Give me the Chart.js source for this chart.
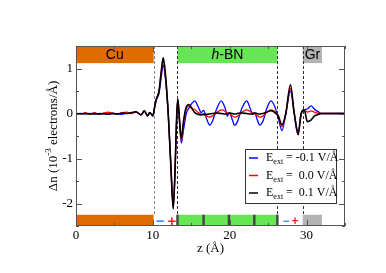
<!DOCTYPE html>
<html>
<head>
<meta charset="utf-8">
<script src="https://cdn.jsdelivr.net/npm/chart.js@4.4.1/dist/chart.umd.min.js"></script>
<style>
  html, body { margin: 0; padding: 0; background: #fff; }
</style>
</head>
<body>
<canvas id="chart" width="386" height="273"></canvas>
<script>
// distance from the Cu slab (Å)
const z = [0, 0.6, 1.2, 1.8, 2.4, 3.0, 3.6, 4.2, 4.8, 5.4, 6.0, 6.6, 7.2,
  7.8, 8.45, 8.9, 9.3, 9.6, 10.0,
  10.2, 10.45, 10.8, 11.1, 11.35, 11.65, 12.0, 12.35, 12.65, 12.9, 13.1, 13.25, 13.45, 13.7, 14.0,
  14.35, 14.7, 15.05, 15.45, 15.9, 16.3, 16.6, 17.0, 17.4, 17.8, 18.3, 18.9, 19.4, 19.7, 19.95, 20.3,
  20.65, 21.0, 21.6, 22.2, 22.7, 23.0, 23.25, 23.55, 23.9, 24.3, 24.8, 25.35, 25.8, 26.3,
  26.8, 27.3, 27.9, 28.4, 28.9, 29.3, 29.7, 30.1, 30.6, 31.0, 31.6, 32.0, 33, 34, 35];

// Δn for E_ext = -0.1 V/Å
const fieldNeg = [-0.01, 0, -0.01, 0, -0.02, 0, -0.01, -0.02, 0, -0.01, -0.02, 0.01, 0.01,
  0.03, -0.03, 0.05, -0.05, 0.02, -0.06,
  0.1, 0.3, 0.45, 0.82, 1.08, 0.75, 0, -1.15, -2.05, -1.2, -0.08, 0.3, -0.15, -0.66, -0.35,
  0, 0.12, 0.22, 0.28, 0.15, 0.02, 0.07, -0.12, -0.26, -0.15, 0.1, 0.28, 0.12, -0.06, 0.02, -0.12,
  -0.26, -0.18, 0.12, 0.28, 0.1, -0.02, 0.02, -0.12, -0.26, -0.18, 0.1, 0.28, 0.18, -0.08,
  -0.38, 0, 0.5, 0, -0.4, 0, 0.08, 0.1, 0.17, 0.1, 0.03, 0, 0, 0, 0];

// Δn for E_ext = 0.0 V/Å
const fieldZero = [0.01, -0.02, 0.02, -0.01, 0.02, -0.02, 0.01, 0.03, 0.01, -0.02, 0.02, 0.03, 0,
  0.04, -0.03, 0.06, -0.05, 0.02, -0.05,
  0.12, 0.32, 0.5, 0.92, 1.18, 0.8, 0, -1.2, -2.1, -1.2, -0.05, 0.3, -0.1, -0.6, -0.2,
  0.1, 0.17, 0.12, 0.09, 0.02, -0.02, -0.03, -0.06, -0.08, -0.05, 0.02, 0.08, 0.05, 0, 0, -0.05,
  -0.08, -0.06, 0.03, 0.08, 0.04, 0, -0.01, -0.04, -0.08, -0.06, 0.02, 0.08, 0.05, -0.05,
  -0.29, 0, 0.56, 0, -0.47, 0, 0.08, 0.03, 0.06, 0.03, 0.005, 0, 0, 0, 0];

// Δn for E_ext = 0.1 V/Å
const fieldPos = [0, -0.01, 0, -0.01, 0, -0.01, 0, -0.01, 0, -0.01, 0.01, 0, 0.02,
  0.04, -0.03, 0.06, -0.05, 0.02, -0.05,
  0.12, 0.32, 0.5, 0.95, 1.24, 0.85, 0, -1.2, -2.12, -1.2, -0.05, 0.32, -0.1, -0.55, -0.15,
  0.15, 0.2, 0.12, 0.02, -0.02, -0.03, -0.01, -0.02, -0.01, 0, 0.01, 0, -0.01, 0, 0.01, 0,
  -0.01, 0, 0.01, 0, -0.01, 0, 0.01, 0, -0.01, 0, 0.03, 0.06, 0.03, -0.05,
  -0.25, 0, 0.64, 0, -0.47, 0, 0.08, -0.18, -0.14, -0.06, -0.015, 0, 0, 0, 0];

const xTicks = [0, 10, 20, 30];
const yTicks = [-2, -1, 0, 1];
const fieldLabels = ['-0.1', ' 0.0', ' 0.1'];

// layer regions (Å)
const regionNames = ['Cu', 'h-BN', 'Gr'];
const regionFrom = [0, 13.2, 29.5];
const regionTo = [10.1, 26.2, 32.0];
const interfaces = [10.1, 13.2, 26.2, 29.5];
const hbnLayers = [13.2, 16.6, 19.9, 23.2, 26.2];
const chargeSigns = [['\u2212', 10.96], ['+', 12.46], ['\u2212', 27.34], ['+', 28.5]];

const regionColors = ['#dd6b00', '#66e655', '#b3b3b3'];
const lineColors = ['#0000ff', '#ff0000', '#000000'];
const serif = '"Liberation Serif", "Times New Roman", serif';
const sans = '"Liberation Sans", Arial, sans-serif';

const toPoints = arr => z.map((v, i) => ({ x: v, y: arr[i] }));

const decor = {
  id: 'decor',
  beforeDatasetsDraw(chart) {
    const { ctx, chartArea: a, scales: { x, y } } = chart;
    ctx.save();
    const topBot = y.getPixelForValue(1.12);
    const botTop = y.getPixelForValue(-2.25);
    regionNames.forEach((name, i) => {
      const x0 = x.getPixelForValue(regionFrom[i]);
      const x1 = x.getPixelForValue(regionTo[i]);
      ctx.fillStyle = regionColors[i];
      ctx.fillRect(x0, a.top, x1 - x0, topBot - a.top);
      ctx.fillRect(x0, botTop, x1 - x0, a.bottom - botTop);
    });
    // hBN layer marks in the bottom strip
    ctx.fillStyle = '#444';
    hbnLayers.forEach(v => {
      const px = x.getPixelForValue(v);
      ctx.fillRect(px - 1.2, botTop, 2.4, a.bottom - botTop);
    });
    // dashed interface lines
    ctx.lineWidth = 1;
    ctx.setLineDash([3, 2]);
    interfaces.forEach((v, i) => {
      const px = Math.round(x.getPixelForValue(v)) + 0.5;
      ctx.strokeStyle = i === 0 ? '#888' : '#333';
      ctx.beginPath();
      ctx.moveTo(px, a.top);
      ctx.lineTo(px, botTop);
      ctx.stroke();
    });
    ctx.setLineDash([]);
    // region labels
    ctx.fillStyle = '#000';
    ctx.textBaseline = 'middle';
    const ty = (a.top + topBot) / 2 + 1;
    ctx.font = '14px ' + sans;
    ctx.textAlign = 'center';
    ctx.fillText('Cu', x.getPixelForValue((regionFrom[0] + regionTo[0]) / 2), ty);
    const hc = x.getPixelForValue((regionFrom[1] + regionTo[1]) / 2);
    ctx.textAlign = 'left';
    ctx.font = 'italic 14px ' + sans;
    const hw = ctx.measureText('h').width;
    ctx.font = '14px ' + sans;
    const bw = ctx.measureText('-BN').width;
    const hx = hc - (hw + bw) / 2;
    ctx.font = 'italic 14px ' + sans;
    ctx.fillText('h', hx, ty);
    ctx.font = '14px ' + sans;
    ctx.fillText('-BN', hx + hw, ty);
    ctx.fillText('Gr', x.getPixelForValue(regionFrom[2]) + 2, ty);
    // charge signs
    ctx.textAlign = 'center';
    chargeSigns.forEach(([s, v], i) => {
      ctx.font = 'bold ' + (i < 2 ? 15 : 12) + 'px ' + sans;
      ctx.fillStyle = s === '+' ? '#ff2020' : '#3d8bff';
      ctx.fillText(s, x.getPixelForValue(v), (botTop + a.bottom) / 2 + 1);
    });
    ctx.restore();
  },
  afterDatasetsDraw(chart) {
    const { ctx } = chart;
    ctx.save();
    const bx = 245.5, by = 149.5, bw = 91, bh = 54;
    ctx.fillStyle = '#fff';
    ctx.fillRect(bx, by, bw, bh);
    ctx.strokeStyle = '#333';
    ctx.lineWidth = 1;
    ctx.strokeRect(bx, by, bw, bh);
    fieldLabels.forEach((lab, i) => {
      const ry = 158 + i * 17.5;
      ctx.strokeStyle = lineColors[i];
      ctx.lineWidth = 1.5;
      ctx.beginPath();
      ctx.moveTo(249, ry);
      ctx.lineTo(258, ry);
      ctx.stroke();
      ctx.fillStyle = '#000';
      ctx.textBaseline = 'middle';
      ctx.textAlign = 'left';
      ctx.font = '12px ' + serif;
      ctx.fillText('E', 266, ry);
      let tx = 266 + ctx.measureText('E').width;
      ctx.font = '8px ' + serif;
      ctx.fillText('ext', tx, ry + 4);
      tx += ctx.measureText('ext').width;
      ctx.font = '12px ' + serif;
      ctx.fillText(' = ' + lab + ' V/\u00c5', tx, ry);
    });
    ctx.restore();
  },
  afterDraw(chart) {
    const { ctx, chartArea: a, scales: { x, y } } = chart;
    ctx.save();
    ctx.strokeStyle = '#555';
    ctx.lineWidth = 1;
    ctx.strokeRect(a.left + 0.5, a.top + 0.5, a.right - a.left - 1, a.bottom - a.top - 1);
    ctx.beginPath();
    for (let v = 0; v <= 35; v += 5) {
      const px = Math.round(x.getPixelForValue(v)) + 0.5;
      const len = v % 10 === 0 ? 6 : 3;
      ctx.moveTo(px, a.bottom); ctx.lineTo(px, a.bottom - len);
      ctx.moveTo(px, a.top); ctx.lineTo(px, a.top + len);
    }
    for (let v = -2.5; v <= 1.5; v += 0.5) {
      const py = Math.round(y.getPixelForValue(v)) + 0.5;
      const len = Number.isInteger(v) ? 6 : 3;
      ctx.moveTo(a.left, py); ctx.lineTo(a.left + len, py);
      ctx.moveTo(a.right, py); ctx.lineTo(a.right - len, py);
    }
    ctx.stroke();
    // axis titles
    ctx.fillStyle = '#000';
    ctx.textBaseline = 'middle';
    ctx.textAlign = 'center';
    ctx.font = '13px ' + serif;
    ctx.fillText('z (\u00c5)', (a.left + a.right) / 2, 249);
    ctx.translate(54, (a.top + a.bottom) / 2);
    ctx.rotate(-Math.PI / 2);
    ctx.textAlign = 'left';
    const p1 = '\u0394n (10', p2 = '-3', p3 = ' electrons/\u00c5)';
    ctx.font = '13px ' + serif;
    const w1 = ctx.measureText(p1).width, w3 = ctx.measureText(p3).width;
    ctx.font = '9px ' + serif;
    const w2 = ctx.measureText(p2).width;
    let tx = -(w1 + w2 + w3) / 2;
    ctx.font = '13px ' + serif;
    ctx.fillText(p1, tx, 0);
    tx += w1;
    ctx.font = '9px ' + serif;
    ctx.fillText(p2, tx, -5);
    tx += w2;
    ctx.font = '13px ' + serif;
    ctx.fillText(p3, tx, 0);
    ctx.restore();
  }
};

new Chart(document.getElementById('chart'), {
  type: 'line',
  data: {
    datasets: [
      { data: toPoints(fieldPos), borderColor: lineColors[2], borderWidth: 1.6 },
      { data: toPoints(fieldZero), borderColor: lineColors[1], borderWidth: 1.3 },
      { data: toPoints(fieldNeg), borderColor: lineColors[0], borderWidth: 1.3 }
    ]
  },
  options: {
    responsive: false,
    animation: false,
    layout: { padding: { top: 46, right: 41, left: 0, bottom: 0 } },
    plugins: { legend: { display: false }, tooltip: { enabled: false } },
    elements: {
      point: { radius: 0 },
      line: { cubicInterpolationMode: 'monotone', fill: false }
    },
    scales: {
      x: {
        type: 'linear', min: 0, max: 35,
        grid: { display: false, drawTicks: false },
        border: { display: false },
        afterBuildTicks: s => { s.ticks = xTicks.map(v => ({ value: v })); },
        afterFit: s => { s.height = 47; },
        ticks: { font: { family: serif, size: 13 }, color: '#000', padding: 2, maxRotation: 0 }
      },
      y: {
        min: -2.5, max: 1.5,
        grid: { display: false, drawTicks: false },
        border: { display: false },
        afterBuildTicks: s => { s.ticks = yTicks.map(v => ({ value: v })); },
        afterFit: s => { s.width = 76; },
        ticks: { font: { family: serif, size: 13 }, color: '#000', padding: 3 }
      }
    }
  },
  plugins: [decor]
});
</script>
</body>
</html>
